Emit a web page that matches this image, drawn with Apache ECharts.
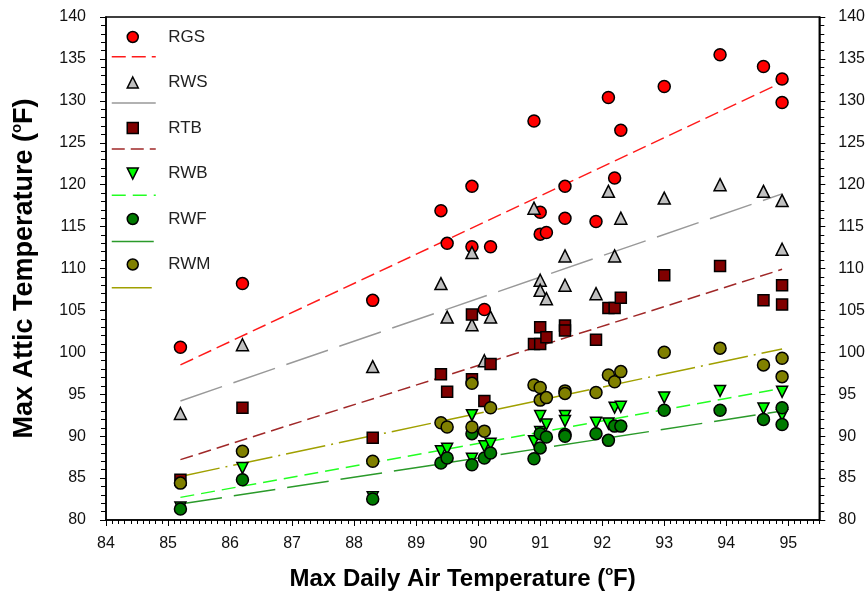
<!DOCTYPE html>
<html><head><meta charset="utf-8">
<script src="https://cdn.jsdelivr.net/npm/echarts@6/dist/echarts.min.js"></script>
<style>html,body{margin:0;padding:0;background:#fff}#c{width:868px;height:596px}</style>
</head><body><div id="c"></div>
<script>
// ---------- data ----------
const seriesNames = ['RGS', 'RWS', 'RTB', 'RWB', 'RWF', 'RWM'];
const fitNames = ['RGS fit', 'RWS fit', 'RTB fit', 'RWB fit', 'RWF fit', 'RWM fit'];

const rgs = [[85.2,100.6],[86.2,108.2],[88.3,106.2],[89.4,116.9],[89.5,113.0],[89.9,119.8],[89.9,112.6],[90.1,105.1],
  [90.2,112.6],[90.9,127.6],[91.0,116.7],[91.0,114.1],[91.1,114.3],[91.4,119.8],[91.4,116.0],[91.9,115.6],
  [92.1,130.4],[92.2,120.8],[92.3,126.5],[93.0,131.7],[93.9,135.5],[94.6,134.1],[94.9,132.6],[94.9,129.8]];
const rws = [[85.2,92.7],[86.2,100.9],[88.3,98.3],[89.4,108.2],[89.5,104.2],[89.9,111.9],[89.9,103.3],[90.1,99.0],
  [90.2,104.2],[90.9,117.2],[91.0,108.6],[91.0,107.4],[91.1,106.4],[91.4,111.5],[91.4,108.0],[91.9,107.0],
  [92.1,119.2],[92.2,111.5],[92.3,116.0],[93.0,118.4],[93.9,120.0],[94.6,119.2],[94.9,118.1],[94.9,112.3]];
const rtb = [[85.2,84.8],[86.2,93.4],[88.3,89.8],[89.4,97.4],[89.5,95.3],[89.9,104.5],[89.9,96.8],[90.1,94.2],
  [90.2,98.6],[90.9,101.0],[91.0,103.0],[91.0,101.0],[91.1,101.8],[91.4,103.2],[91.4,102.6],[91.9,101.5],
  [92.1,105.3],[92.2,105.3],[92.3,106.5],[93.0,109.2],[93.9,110.3],[94.6,106.2],[94.9,108.0],[94.9,105.7]];
const rwb = [[85.2,81.5],[86.2,86.2],[88.3,82.7],[89.4,88.2],[89.5,88.5],[89.9,92.5],[89.9,87.3],[90.1,88.8],
  [90.2,89.1],[90.9,89.4],[91.0,92.4],[91.0,90.5],[91.1,91.4],[91.4,92.4],[91.4,91.8],[91.9,91.6],
  [92.1,91.5],[92.2,93.4],[92.3,93.5],[93.0,94.6],[93.9,95.4],[94.6,93.3],[94.9,95.3],[94.9,92.5]];
const rwf = [[85.2,81.3],[86.2,84.8],[88.3,82.5],[89.4,86.8],[89.5,87.4],[89.9,90.3],[89.9,86.6],[90.1,87.4],
  [90.2,88.0],[90.9,87.3],[91.0,90.3],[91.0,88.6],[91.1,89.9],[91.4,90.2],[91.4,90.0],[91.9,90.3],
  [92.1,89.5],[92.2,91.2],[92.3,91.2],[93.0,93.1],[93.9,93.1],[94.6,92.0],[94.9,93.4],[94.9,91.4]];
const rwm = [[85.2,84.4],[86.2,88.2],[88.3,87.0],[89.4,91.6],[89.5,91.1],[89.9,96.3],[89.9,91.1],[90.1,90.6],
  [90.2,93.4],[90.9,96.1],[91.0,95.8],[91.0,94.3],[91.1,94.6],[91.4,95.4],[91.4,95.1],[91.9,95.2],
  [92.1,97.3],[92.2,96.5],[92.3,97.7],[93.0,100.0],[93.9,100.5],[94.6,98.5],[94.9,99.3],[94.9,97.1]];

// trend line end points (x from fitX, y)
const fitX = [85.2, 94.9];
const rgsFit = [98.5, 132.2];
const rwsFit = [94.2, 118.9];
const rtbFit = [87.2, 109.9];
const rwbFit = [82.7, 95.7];
const rwfFit = [81.9, 93.0];
const rwmFit = [85.2, 100.4];

// axes
const xMin = 84, xMax = 95.5, xStep = 1, xMinorStep = 0.1;
const yMin = 80, yMax = 140, yStep = 5;
const xTitle = 'Max Daily Air Temperature (';
const yTitle = 'Max Attic Temperature (';

// ---------- styles ----------
const FONT = "'Liberation Sans', Arial, sans-serif";
const downTri = 'path://M0,0 L10,0 L5,10 Z';
const styles = [
  {symbol:'circle',   size:12, color:'#ff0000', line:'#ff1a1a', dash:[14,6]},
  {symbol:'triangle', size:12, color:'#c0c0c0', line:'#999999', dash:[44,12]},
  {symbol:'rect',     size:11, color:'#800000', line:'#a02828', dash:[13,6]},
  {symbol:downTri,    size:11, color:'#00ff00', line:'#22ff22', dash:[14,7]},
  {symbol:'circle',   size:12, color:'#007a00', line:'#2a9a2a', dash:[42,12]},
  {symbol:'circle',   size:12, color:'#808000', line:'#a0a000', dash:[40,6,2,6]}
];
const pts = [rgs, rws, rtb, rwb, rwf, rwm];
const fits = [rgsFit, rwsFit, rtbFit, rwbFit, rwfFit, rwmFit];

const series = [];
fits.forEach((f, i) => {
  series.push({
    name: fitNames[i], type: 'line', data: fitX.map((x, k) => [x, f[k]]),
    symbol: 'none', z: 2, silent: true,
    lineStyle: {color: styles[i].line, width: 1.5, type: styles[i].dash}
  });
});
pts.forEach((p, i) => {
  series.push({
    name: seriesNames[i], type: 'scatter', data: p, z: 3 + i,
    symbol: styles[i].symbol, symbolSize: styles[i].size, symbolKeepAspect: true,
    itemStyle: {color: styles[i].color, borderColor: '#000', borderWidth: 1.5, opacity: 1}
  });
});

function richTitle(size) {
  return {
    a: {fontSize: size, fontWeight: 'bold', fontFamily: FONT, color: '#000', lineHeight: size + 4},
    s: {fontSize: Math.round(size * 0.55), fontWeight: 'bold', fontFamily: FONT, color: '#000', verticalAlign: 'top', lineHeight: Math.round(size * 0.55)}
  };
}

const yAxisBase = {
  type: 'value', min: yMin, max: yMax, interval: yStep,
  axisLine: {show: true, lineStyle: {color: '#000', width: 1.5}},
  axisTick: {show: true, inside: false, length: 6, lineStyle: {color: '#000', width: 1}},
  minorTick: {show: true, splitNumber: 5, length: 5, lineStyle: {color: '#000', width: 1}},
  splitLine: {show: false}
};

const option = {
  animation: false,
  backgroundColor: '#fff',
  grid: {left: 106, right: 44, top: 17, bottom: 74, show: true, borderColor: '#000', borderWidth: 1.5, backgroundColor: 'transparent'},
  legend: [
    {data: seriesNames, orient: 'vertical', left: 126.5, top: 25, padding: 0,
     itemWidth: 11, itemHeight: 11, itemGap: 21.5, selectedMode: false, symbolKeepAspect: true,
     itemStyle: {borderWidth: 1.5, borderColor: '#000'},
     textStyle: {fontSize: 17, lineHeight: 20, fontFamily: FONT, color: '#222', padding: [0, 0, 4, 25]}},
    {data: fitNames, orient: 'vertical', left: 111, top: 52.7, padding: 0,
     itemWidth: 44, itemHeight: 10, itemGap: 38.2, selectedMode: false,
     formatter: () => '',
     itemStyle: {color: 'rgba(0,0,0,0)', borderWidth: 0, opacity: 0},
     lineStyle: {width: 1.5},
     textStyle: {fontSize: 10, lineHeight: 10}}
  ],
  xAxis: [
    {type: 'value', min: xMin, max: xMax, interval: xStep, position: 'bottom',
     axisLine: {onZero: false, lineStyle: {color: '#000', width: 1.5}},
     axisTick: {show: true, inside: false, length: 6, lineStyle: {color: '#000', width: 1}},
     splitLine: {show: false},
     axisLabel: {fontSize: 16, color: '#111', margin: 16, fontFamily: FONT, showMaxLabel: false},
     name: '{a|' + xTitle + '}{s|o}{a|F)}', nameLocation: 'middle', nameGap: 45,
     nameTextStyle: {rich: richTitle(24)}},
    {type: 'value', min: xMin, max: xMax, interval: xMinorStep, position: 'bottom',
     axisLine: {show: false}, splitLine: {show: false}, axisLabel: {show: false},
     axisTick: {show: true, inside: false, length: 4, lineStyle: {color: '#000', width: 1}}}
  ],
  yAxis: [
    Object.assign({}, yAxisBase, {position: 'left',
      axisLabel: {fontSize: 16, color: '#111', margin: 20, fontFamily: FONT},
      name: '{a|' + yTitle + '}{s|o}{a|F)}', nameLocation: 'middle', nameGap: 66,
      nameTextStyle: {rich: richTitle(27)}}),
    Object.assign({}, yAxisBase, {position: 'right',
      axisLabel: {fontSize: 16, color: '#111', margin: 19, fontFamily: FONT}})
  ],
  series: series
};

const chart = echarts.init(document.getElementById('c'), null, {renderer: 'canvas'});
chart.setOption(option);
</script>
</body></html>
